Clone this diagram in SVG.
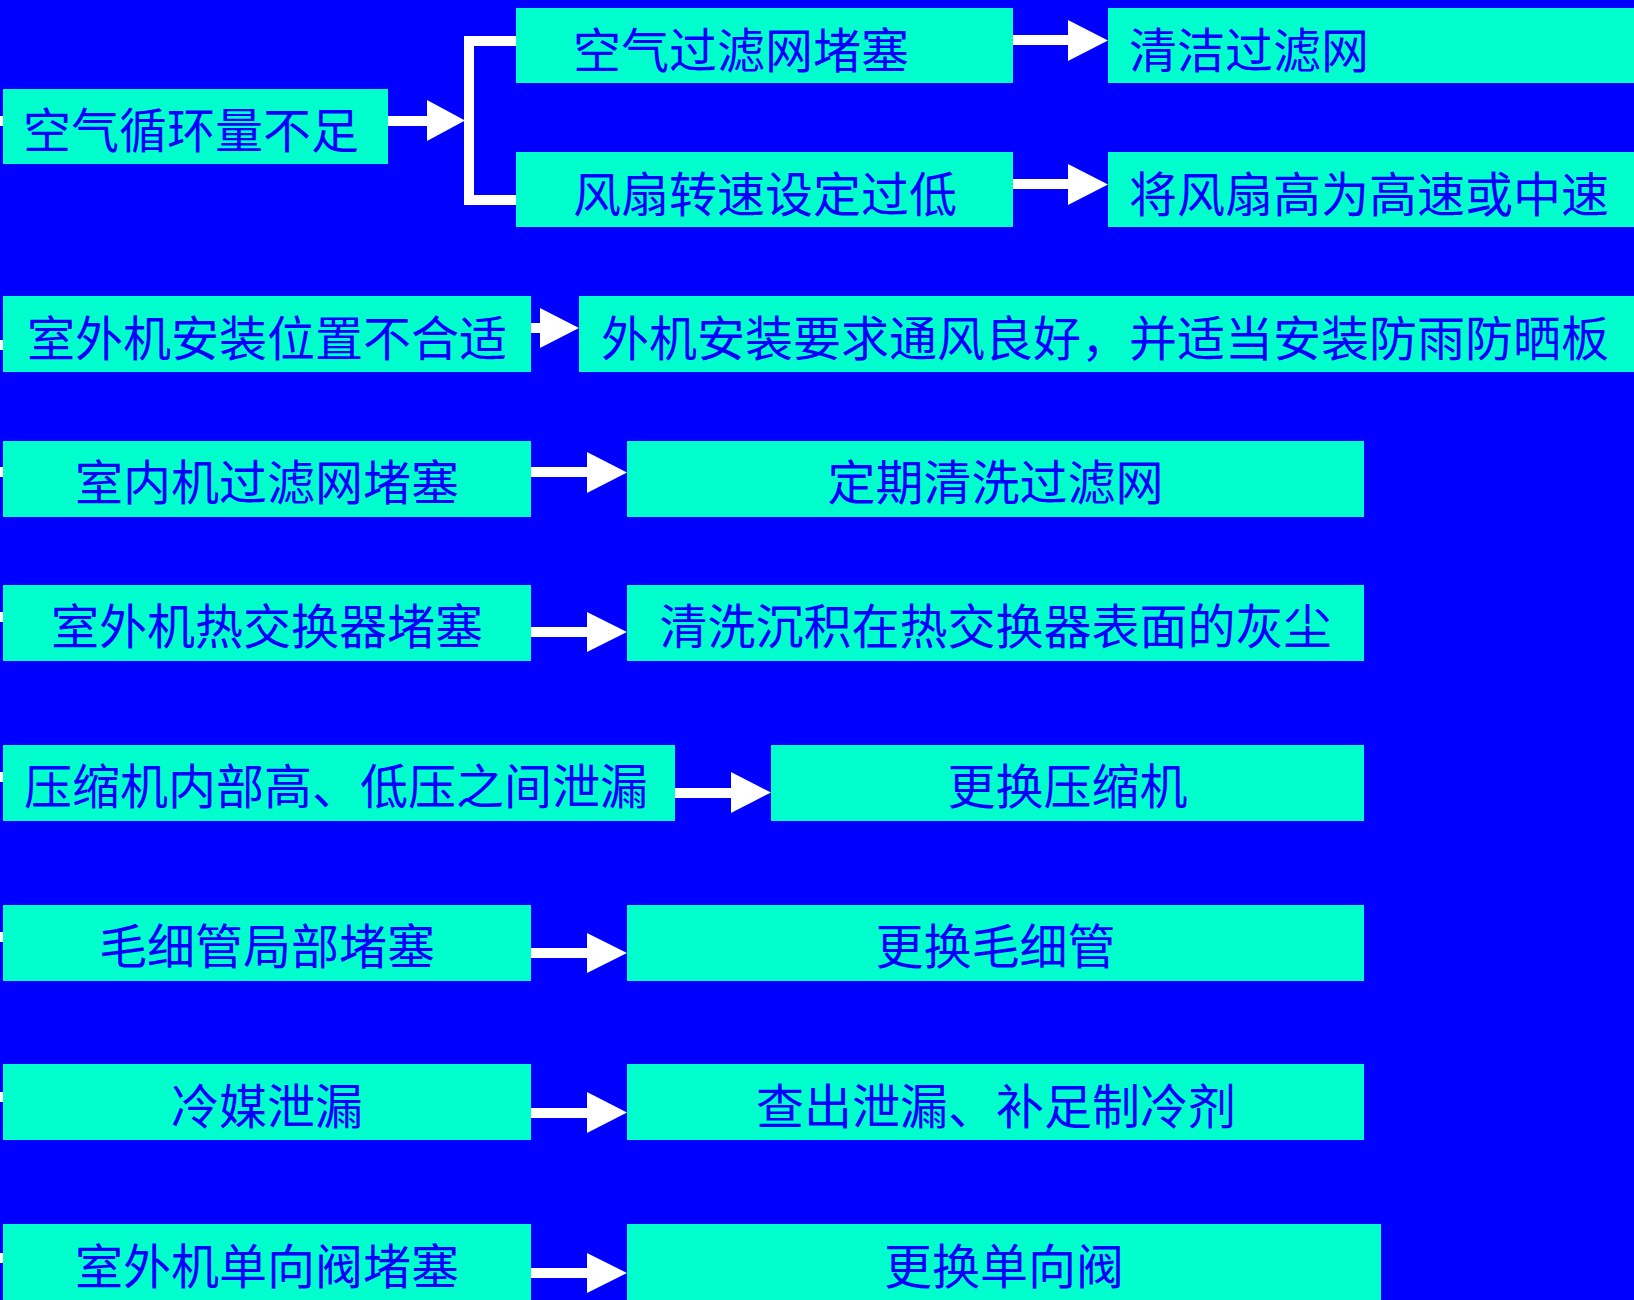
<svg xmlns="http://www.w3.org/2000/svg" width="1634" height="1300" viewBox="0 0 1634 1300">
<style>
.bx{fill:#00FFCC}
.t{font-family:"Noto Sans CJK SC","Noto Sans CJK TC",sans-serif;font-size:48px;fill:#0000FF}
.m{text-anchor:middle}
.w{fill:#FFFFFF}
</style>
<rect x="0" y="0" width="1634" height="1300" fill="#0000FF"/>
<g id="connectors" class="w">
  <rect x="0" y="116" width="3" height="10"/>
  <rect x="0" y="340" width="3" height="10"/>
  <rect x="0" y="467" width="3" height="10"/>
  <rect x="0" y="612" width="3" height="10"/>
  <rect x="0" y="772" width="3" height="10"/>
  <rect x="0" y="932" width="3" height="10"/>
  <rect x="0" y="1092" width="3" height="10"/>
  <rect x="0" y="1253" width="3" height="10"/>
  <!-- row 1 -->
  <rect x="388" y="116" width="40" height="10"/>
  <polygon points="427,100 465,120.5 427,141"/>
  <rect x="464" y="36" width="10" height="169"/>
  <rect x="464" y="36" width="53" height="10"/>
  <rect x="464" y="195" width="53" height="10"/>
  <rect x="1013" y="35" width="56" height="10"/>
  <polygon points="1068,20 1108,40.5 1068,61"/>
  <rect x="1013" y="179" width="56" height="10"/>
  <polygon points="1068,164 1108,184.5 1068,205"/>
  <!-- row 2 -->
  <rect x="531" y="323" width="10" height="10"/>
  <polygon points="540,308 579,328 540,348"/>
  <!-- row 3 -->
  <rect x="531" y="467" width="57" height="10"/>
  <polygon points="587,452 627,472.5 587,493"/>
  <!-- row 4 -->
  <rect x="531" y="627" width="57" height="10"/>
  <polygon points="587,612 627,632 587,652"/>
  <!-- row 5 -->
  <rect x="675" y="788" width="57" height="10"/>
  <polygon points="731,772 771,792.5 731,813"/>
  <!-- row 6 -->
  <rect x="531" y="948" width="57" height="10"/>
  <polygon points="587,933 627,953 587,973"/>
  <!-- row 7 -->
  <rect x="531" y="1108" width="57" height="10"/>
  <polygon points="587,1092 627,1112.5 587,1133"/>
  <!-- row 8 -->
  <rect x="531" y="1268" width="57" height="10"/>
  <polygon points="587,1253 627,1273 587,1293"/>
</g>
<g id="n1"><rect class="bx" x="3" y="89" width="385" height="75"/><text class="t" x="23" y="148">空气循环量不足</text></g>
<g id="n2"><rect class="bx" x="516" y="8" width="497" height="75"/><text class="t" x="573" y="67.5">空气过滤网堵塞</text></g>
<g id="n3"><rect class="bx" x="516" y="152" width="497" height="75"/><text class="t" x="573" y="211.5">风扇转速设定过低</text></g>
<g id="n4"><rect class="bx" x="1108" y="8" width="526" height="75"/><text class="t" x="1129" y="67.5">清洁过滤网</text></g>
<g id="n5"><rect class="bx" x="1108" y="152" width="526" height="75"/><text class="t" x="1129" y="211.5">将风扇高为高速或中速</text></g>
<g id="n6"><rect class="bx" x="3" y="296" width="528" height="76"/><text class="t m" x="267" y="355.5">室外机安装位置不合适</text></g>
<g id="n7"><rect class="bx" x="579" y="296" width="1055" height="76"/><text class="t" x="601" y="355.5">外机安装要求通风良好，并适当安装防雨防晒板</text></g>
<g id="n8"><rect class="bx" x="3" y="441" width="528" height="76"/><text class="t m" x="267" y="499.5">室内机过滤网堵塞</text></g>
<g id="n9"><rect class="bx" x="627" y="441" width="737" height="76"/><text class="t m" x="995.5" y="499.5">定期清洗过滤网</text></g>
<g id="n10"><rect class="bx" x="3" y="585" width="528" height="76"/><text class="t m" x="267" y="644">室外机热交换器堵塞</text></g>
<g id="n11"><rect class="bx" x="627" y="585" width="737" height="76"/><text class="t m" x="995.5" y="644">清洗沉积在热交换器表面的灰尘</text></g>
<g id="n12"><rect class="bx" x="3" y="745" width="672" height="76"/><text class="t" x="24" y="804">压缩机内部高、低压之间泄漏</text></g>
<g id="n13"><rect class="bx" x="771" y="745" width="593" height="76"/><text class="t m" x="1067.5" y="804">更换压缩机</text></g>
<g id="n14"><rect class="bx" x="3" y="905" width="528" height="76"/><text class="t m" x="267" y="963.5">毛细管局部堵塞</text></g>
<g id="n15"><rect class="bx" x="627" y="905" width="737" height="76"/><text class="t m" x="995.5" y="963.5">更换毛细管</text></g>
<g id="n16"><rect class="bx" x="3" y="1064" width="528" height="76"/><text class="t m" x="267" y="1124">冷媒泄漏</text></g>
<g id="n17"><rect class="bx" x="627" y="1064" width="737" height="76"/><text class="t m" x="996" y="1124">查出泄漏、补足制冷剂</text></g>
<g id="n18"><rect class="bx" x="3" y="1224" width="528" height="76"/><text class="t m" x="267" y="1284">室外机单向阀堵塞</text></g>
<g id="n19"><rect class="bx" x="627" y="1224" width="754" height="76"/><text class="t m" x="1004" y="1284">更换单向阀</text></g>
</svg>
